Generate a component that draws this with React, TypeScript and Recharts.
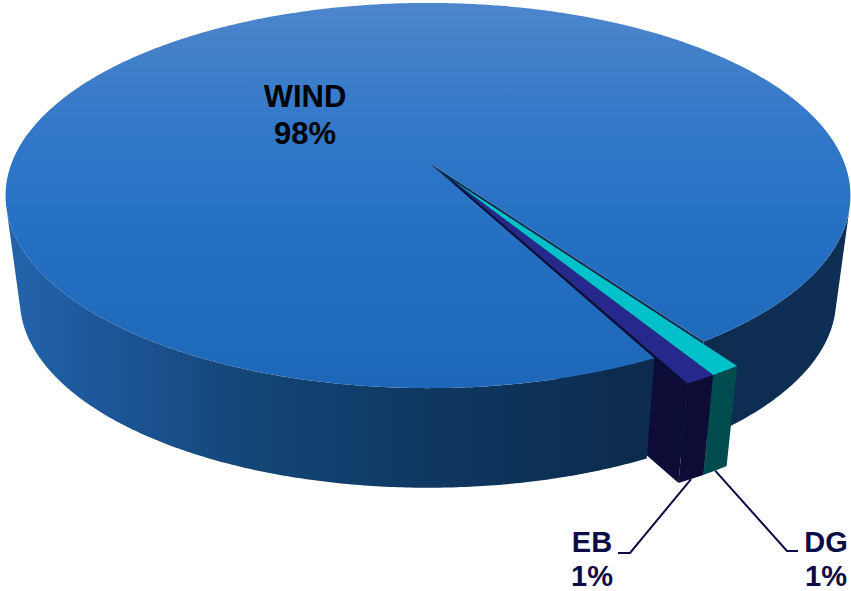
import { Pie, PieChart } from "recharts";

// slices, in drawing order (clockwise from the start angle)
const names = ["WIND", "DG", "EB"];
const shares = [98, 1, 1];
// how far each slice is pulled out of the pie, in radii
const pulled = [0, 0.11, 0.11];
const topColors = ["url(#windTop)", "#00c1c9", "#27288c"];
const wallColors = ["url(#windWall)", "#004b4e", "#0d0c36"];
const sideColors = ["#0c2b4d", "#004b4e", "#0d0c36"];

const data = names.map((name, i) => ({ name, value: shares[i] }));

// fake 3D: a tilted disc seen in perspective, with a thick rim
const TILT = 0.449; // vertical squash of the top face
const PERSP = 0.174; // near edge drawn larger than the far edge
const BASE_DROP = 105.4; // how far the bottom face sits below the top face
const BASE_X = 0.966;
const BASE_Y = 0.4375;
const RAD = Math.PI / 180;

type Pt = [number, number];

// mid angles of every slice, filled in by the first pie layer so the
// pulled-out slices can all move together in one direction
const mids: Record<string, number> = {};

function project(cx: number, cy: number, R: number, p: Pt, bottom: boolean): Pt {
  const [u, v] = p;
  const w = 1 - PERSP * v;
  if (!bottom) return [cx + (R * u) / w, cy + (R * TILT * v) / w];
  return [cx + (R * BASE_X * u) / w, cy + BASE_DROP + (R * BASE_Y * v) / w];
}

const fmt = (pts: Pt[]) => "M" + pts.map((p) => `${p[0].toFixed(2)},${p[1].toFixed(2)}`).join("L") + "Z";

function geometry(props: any) {
  const { cx, cy, outerRadius: R, startAngle, endAngle } = props;
  const name = props.name ?? props.payload?.name;
  const i = names.indexOf(name);
  const a0 = Math.min(startAngle, endAngle);
  const a1 = Math.max(startAngle, endAngle);
  const own = (a0 + a1) / 2;
  mids[name] = own;
  const e = pulled[i] ?? 0;
  const group = names.filter((n, k) => pulled[k] > 0 && mids[n] !== undefined).map((n) => mids[n]);
  const dir = (e > 0 && group.length ? group.reduce((s, m) => s + m, 0) / group.length : own) * RAD;
  const ou = e * Math.cos(dir);
  const ov = -e * Math.sin(dir);
  const disk = (r: number, deg: number): Pt => [ou + r * Math.cos(deg * RAD), ov - r * Math.sin(deg * RAD)];
  const n = Math.max(2, Math.ceil((a1 - a0) / 0.5));
  const rim: Pt[] = [];
  for (let k = 0; k <= n; k++) rim.push(disk(1, a0 + ((a1 - a0) * k) / n));
  const top = (p: Pt) => project(cx, cy, R, p, false);
  const bot = (p: Pt) => project(cx, cy, R, p, true);
  return { i, e, centre: disk(0, 0), rim, top, bot, mid: own, disk };
}

// a vertical face is visible when its outline winds clockwise on screen
function facing(q: Pt[]) {
  let s = 0;
  for (let k = 0; k < q.length; k++) {
    const a = q[k];
    const b = q[(k + 1) % q.length];
    s += a[0] * b[1] - b[0] * a[1];
  }
  return s > 0;
}

function sideFaces(g: ReturnType<typeof geometry>) {
  const edges: [Pt, Pt][] = [
    [g.centre, g.rim[0]],
    [g.rim[g.rim.length - 1], g.centre],
  ];
  return edges
    .map(([p1, p2]) => [g.top(p1), g.top(p2), g.bot(p2), g.bot(p1)] as Pt[])
    .filter(facing)
    .map((q, k) => <path key={`s${k}`} d={fmt(q)} fill={sideColors[g.i]} />);
}

function rimWalls(g: ReturnType<typeof geometry>) {
  const out: JSX.Element[] = [];
  let run: number[] = [];
  const flush = () => {
    if (!run.length) return;
    const idx = [...run, run[run.length - 1] + 1];
    const pts = [...idx.map((k) => g.top(g.rim[k])), ...idx.reverse().map((k) => g.bot(g.rim[k]))];
    out.push(<path key={`w${out.length}`} d={fmt(pts)} fill={wallColors[g.i]} />);
    run = [];
  };
  for (let k = 0; k < g.rim.length - 1; k++) {
    const q: Pt[] = [g.top(g.rim[k]), g.top(g.rim[k + 1]), g.bot(g.rim[k + 1]), g.bot(g.rim[k])];
    if (facing(q)) run.push(k);
    else flush();
  }
  flush();
  return out;
}

function topFace(g: ReturnType<typeof geometry>) {
  return <path d={fmt([g.top(g.centre), ...g.rim.map(g.top)])} fill={topColors[g.i]} />;
}

type Layer = "notch" | "sides" | "body" | "front";

const layerShape = (layer: Layer) => (props: any) => {
  const g = geometry(props);
  const out = g.e > 0;
  if (layer === "notch" && !out) return <g>{sideFaces(g)}</g>;
  if (layer === "sides" && out) return <g>{sideFaces(g)}</g>;
  if (layer === "body" && !out)
    return (
      <g>
        {rimWalls(g)}
        {topFace(g)}
      </g>
    );
  if (layer === "front" && out)
    return (
      <g>
        {rimWalls(g)}
        {topFace(g)}
      </g>
    );
  return <g />;
};

const callouts: Record<string, { elbow: Pt; end: Pt; textX: number }> = {
  EB: { elbow: [630, 553], end: [618, 553], textX: 592 },
  DG: { elbow: [787, 551], end: [798, 551], textX: 826 },
};

const labelFont = { fontFamily: "'Liberation Sans', Arial, sans-serif", fontWeight: 700 };

const renderLabel = (props: any) => {
  const g = geometry(props);
  const name = names[g.i];
  const pct = `${shares[g.i]}%`;
  if (!g.e) {
    return (
      <text textAnchor="middle" fontSize={31} fill="#000" style={labelFont}>
        <tspan x={305} y={107}>{name}</tspan>
        <tspan x={305} y={144}>{pct}</tspan>
      </text>
    );
  }
  const c = callouts[name];
  const start = g.bot(g.disk(1, g.mid));
  return (
    <g>
      <polyline
        points={[start, c.elbow, c.end].map((p) => p.join(",")).join(" ")}
        fill="none"
        stroke="#0b0b45"
        strokeWidth={2}
      />
      <text textAnchor="middle" fontSize={29} fill="#0b0b45" style={labelFont}>
        <tspan x={c.textX} y={552}>{name}</tspan>
        <tspan x={c.textX} y={586}>{pct}</tspan>
      </text>
    </g>
  );
};

const layers: Layer[] = ["notch", "sides", "body", "front"];

export default function App() {
  return (
    <div style={{ position: "absolute", left: 0, top: 0, background: "#fff" }}>
      <PieChart width={851} height={591} margin={{ top: 0, right: 0, bottom: 0, left: 0 }}>
        <defs>
          <linearGradient id="windTop" x1="0" y1="0" x2="0" y2="390" gradientUnits="userSpaceOnUse">
            <stop offset="0" stopColor="#4e86cc" />
            <stop offset="0.3" stopColor="#3479c8" />
            <stop offset="0.6" stopColor="#2570c3" />
            <stop offset="1" stopColor="#1e67b8" />
          </linearGradient>
          <linearGradient id="windWall" x1="0" y1="0" x2="851" y2="0" gradientUnits="userSpaceOnUse">
            <stop offset="0" stopColor="#2465ae" />
            <stop offset="0.12" stopColor="#1d5698" />
            <stop offset="0.3" stopColor="#134576" />
            <stop offset="0.5" stopColor="#0f3862" />
            <stop offset="0.75" stopColor="#0c2b4d" />
            <stop offset="1" stopColor="#0e2e55" />
          </linearGradient>
        </defs>
        {layers.map((layer) => (
          <Pie
            key={layer}
            data={data}
            dataKey="value"
            nameKey="name"
            cx={428}
            cy={162}
            innerRadius={0}
            outerRadius={416}
            startAngle={297.4}
            endAngle={-62.6}
            stroke="none"
            isAnimationActive={false}
            shape={layerShape(layer)}
            activeShape={layerShape(layer)}
            inactiveShape={layerShape(layer)}
            label={layer === "front" ? renderLabel : false}
            labelLine={false}
          />
        ))}
      </PieChart>
    </div>
  );
}
